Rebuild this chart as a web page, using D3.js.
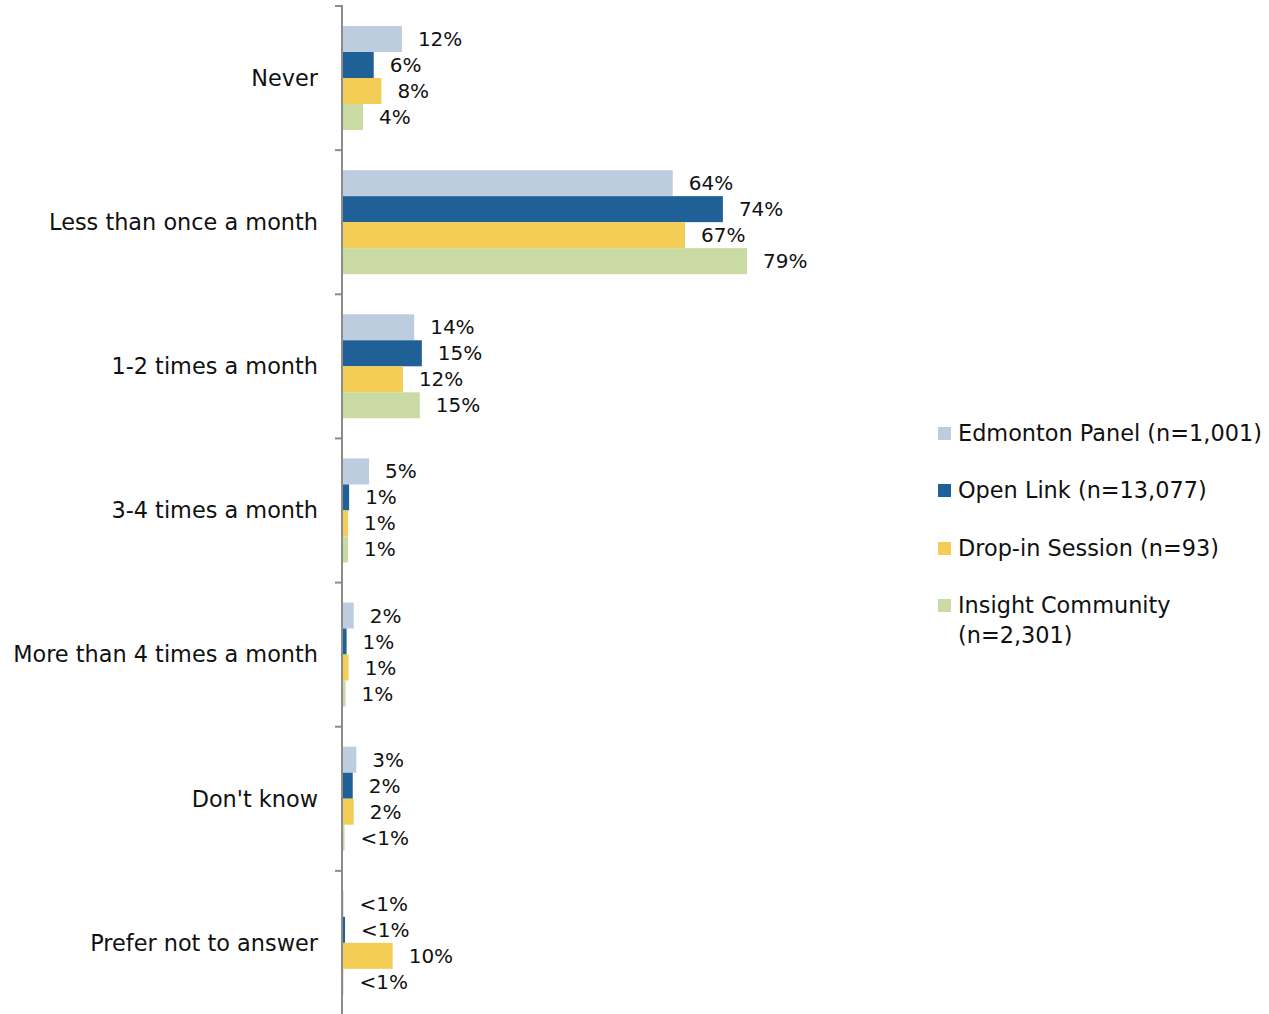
<!DOCTYPE html>
<html lang="en">
  <head>
    <meta charset="UTF-8" />
    <title>Frequency chart</title>
    <style>
      body { margin: 0; background: #fff; }
      text { font-family: "DejaVu Sans", sans-serif; fill: #111; }
      .cat-label { font-size: 22.4px; }
      .val-label { font-size: 20px; }
      .legend-label { font-size: 22.4px; }
      .axis-line { stroke: #8c8c8c; stroke-width: 2px; }
    </style>
  </head>
  <body>
    <script src="https://cdn.jsdelivr.net/npm/d3@7"></script>
    <script>

      var categories = ["Never", "Less than once a month", "1-2 times a month",
                        "3-4 times a month", "More than 4 times a month",
                        "Don't know", "Prefer not to answer"];

      var seriesNames = ["Edmonton Panel (n=1,001)", "Open Link (n=13,077)",
                         "Drop-in Session (n=93)", "Insight Community (n=2,301)"];

      var seriesColors = ["#bccde0", "#1f6096", "#f3cd56", "#c9dba3"];

      // bar lengths (percent)
      var edmontonPanel   = [11.5, 64.4, 13.9, 5.1, 2.1, 2.6, 0.1];
      var openLink        = [6.0, 74.2, 15.4, 1.2, 0.7, 1.9, 0.4];
      var dropIn          = [7.5, 66.8, 11.7, 1.0, 1.1, 2.1, 9.7];
      var insightCommunity = [3.9, 78.9, 15.0, 1.0, 0.5, 0.3, 0.1];

      // printed labels
      var epLabels = ["12%", "64%", "14%", "5%", "2%", "3%", "<1%"];
      var olLabels = ["6%", "74%", "15%", "1%", "1%", "2%", "<1%"];
      var diLabels = ["8%", "67%", "12%", "1%", "1%", "2%", "10%"];
      var icLabels = ["4%", "79%", "15%", "1%", "1%", "<1%", "<1%"];

      var allValues = [edmontonPanel, openLink, dropIn, insightCommunity];
      var allLabels = [epLabels, olLabels, diLabels, icLabels];

      var w = 1269, h = 1014;
      var axisX = 342;

      var svg = d3.select("body").append("svg")
        .attr("width", w)
        .attr("height", h);

      var yScale = d3.scaleBand()
        .domain(categories)
        .range([6, 1015]);

      var innerScale = d3.scaleBand()
        .domain(d3.range(seriesNames.length))
        .range([20, 124]);

      var xScale = d3.scaleLinear()
        .domain([0, 100])
        .range([axisX + 1, axisX + 1 + 512]);

      var rows = [];
      categories.forEach(function(c, i) {
        allValues.forEach(function(vals, s) {
          rows.push({ cat: c, s: s, value: vals[i], label: allLabels[s][i] });
        });
      });

      var g = svg.append("g");

      g.selectAll("rect.bar")
        .data(rows)
        .enter()
        .append("rect")
        .attr("class", "bar")
        .attr("x", xScale(0))
        .attr("y", function(d) { return yScale(d.cat) + innerScale(d.s); })
        .attr("width", function(d) { return xScale(d.value) - xScale(0); })
        .attr("height", innerScale.bandwidth())
        .attr("fill", function(d) { return seriesColors[d.s]; });

      g.selectAll("text.val-label")
        .data(rows)
        .enter()
        .append("text")
        .attr("class", "val-label")
        .attr("x", function(d) { return xScale(d.value) + 16; })
        .attr("y", function(d) { return yScale(d.cat) + innerScale(d.s) + innerScale.bandwidth() / 2; })
        .attr("dy", "0.35em")
        .text(function(d) { return d.label; });

      // axis line and ticks at band boundaries
      var bounds = categories.map(function(c) { return yScale(c); }).concat([yScale.range()[1]]);

      svg.append("line")
        .attr("class", "axis-line")
        .attr("x1", axisX).attr("x2", axisX)
        .attr("y1", bounds[0] - 1).attr("y2", bounds[bounds.length - 1]);

      svg.selectAll("line.tick")
        .data(bounds)
        .enter()
        .append("line")
        .attr("class", "axis-line tick")
        .attr("x1", axisX - 7).attr("x2", axisX)
        .attr("y1", function(d) { return d; })
        .attr("y2", function(d) { return d; });

      svg.selectAll("text.cat-label")
        .data(categories)
        .enter()
        .append("text")
        .attr("class", "cat-label")
        .attr("x", 318)
        .attr("y", function(d) { return yScale(d) + yScale.bandwidth() / 2; })
        .attr("dy", "0.35em")
        .attr("text-anchor", "end")
        .text(function(d) { return d; });

      // legend
      var legendRows = [433, 490, 548, 605];
      var legend = svg.selectAll("g.legend")
        .data(seriesNames)
        .enter()
        .append("g")
        .attr("class", "legend")
        .attr("transform", function(d, i) { return "translate(938," + legendRows[i] + ")"; });

      legend.append("rect")
        .attr("x", 0).attr("y", -6)
        .attr("width", 13).attr("height", 13)
        .attr("fill", function(d, i) { return seriesColors[i]; });

      legend.append("text")
        .attr("class", "legend-label")
        .attr("x", 20)
        .attr("dy", "0.35em")
        .each(function(d, i) {
          var t = d3.select(this);
          if (i === 3) {
            t.append("tspan").attr("x", 20).text("Insight Community");
            t.append("tspan").attr("x", 20).attr("dy", "1.34em").text("(n=2,301)");
          } else {
            t.text(d);
          }
        });

    </script>
  </body>
</html>
